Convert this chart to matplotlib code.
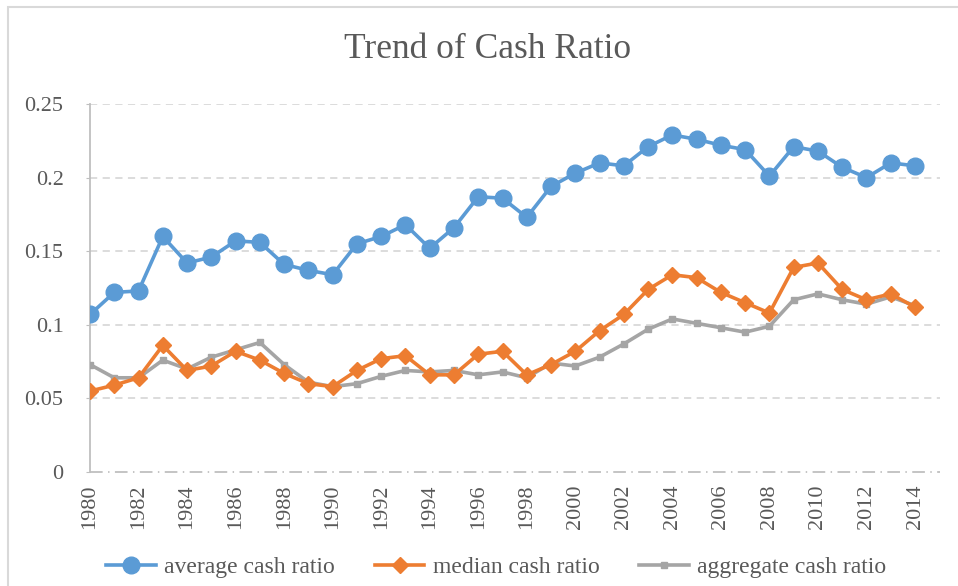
#!/usr/bin/env python3
"""Recreate the 'Trend of Cash Ratio' line chart."""

import matplotlib

matplotlib.use("Agg")
import matplotlib.pyplot as plt
from matplotlib.patches import Rectangle

years = list(range(1980, 2015))

average_ratio = [
    0.107, 0.122, 0.123, 0.160, 0.142, 0.146, 0.157, 0.156, 0.141, 0.137,
    0.134, 0.155, 0.160, 0.168, 0.152, 0.166, 0.187, 0.186, 0.173, 0.194,
    0.203, 0.210, 0.208, 0.221, 0.229, 0.226, 0.222, 0.219, 0.201, 0.221,
    0.218, 0.207, 0.200, 0.210, 0.208,
]
median_ratio = [
    0.055, 0.059, 0.064, 0.086, 0.069, 0.072, 0.082, 0.076, 0.067, 0.060,
    0.058, 0.069, 0.077, 0.079, 0.066, 0.066, 0.080, 0.082, 0.066, 0.073,
    0.082, 0.096, 0.107, 0.124, 0.134, 0.132, 0.122, 0.115, 0.108, 0.139,
    0.142, 0.124, 0.117, 0.121, 0.112,
]
aggregate_ratio = [
    0.073, 0.064, 0.064, 0.076, 0.070, 0.078, 0.083, 0.088, 0.073, 0.061,
    0.058, 0.060, 0.065, 0.069, 0.068, 0.069, 0.066, 0.068, 0.064, 0.074,
    0.072, 0.078, 0.087, 0.097, 0.104, 0.101, 0.098, 0.095, 0.099, 0.117,
    0.121, 0.117, 0.114, 0.119, 0.113,
]

y_ticks = [0, 0.05, 0.1, 0.15, 0.2, 0.25]
y_tick_labels = ["0", "0.05", "0.1", "0.15", "0.2", "0.25"]
x_ticks = list(range(1980, 2015, 2))

TEXT = "#595959"
GRID = "#d9d9d9"
plt.rcParams["font.family"] = ["Liberation Serif", "DejaVu Serif"]

fig = plt.figure(figsize=(9.58, 5.86), dpi=100)
ax = fig.add_axes([90 / 958, 1 - 472 / 586, 850 / 958, 368 / 586])

# outer chart border (left and top visible)
fig.patches.append(
    Rectangle((8 / 958, -0.1), 1.2, 1 - 7 / 586 + 0.1, transform=fig.transFigure,
              fill=False, edgecolor=GRID, lw=1.5)
)

ax.plot(years, average_ratio, color="#5B9BD5", lw=2.6, marker="o", ms=12,
        label="average cash ratio", zorder=5)
ax.plot(years, median_ratio, color="#ED7D31", lw=2.6, marker="D", ms=8.5,
        label="median cash ratio", zorder=4)
ax.plot(years, aggregate_ratio, color="#A5A5A5", lw=2.6, marker="s", ms=4,
        label="aggregate cash ratio", zorder=3)

ax.set_xlim(1980, 2015.03)
ax.set_ylim(0, 0.25)

for y in y_ticks[1:]:
    ax.axhline(y, color=GRID, lw=1.3, ls=(0, (4.0, 3.0)), zorder=1)
ax.axhline(0, color="#bfbfbf", lw=1.3, ls=(0, (7.0, 3.0, 0.8, 3.0)), zorder=1,
           clip_on=False)

for side in ["top", "right", "bottom"]:
    ax.spines[side].set_visible(False)
ax.spines["left"].set_color("#bfbfbf")
ax.spines["left"].set_linewidth(1.3)

ax.set_yticks(y_ticks)
ax.set_yticklabels(y_tick_labels)
ax.set_xticks(x_ticks)
ax.set_xticklabels([str(x) for x in x_ticks], rotation=90)
ax.tick_params(axis="y", length=3, color="#bfbfbf", pad=16, labelsize=16,
               labelcolor=TEXT)
ax.tick_params(axis="x", length=0, pad=9, labelsize=16, labelcolor=TEXT)

fig.text(0.509, 1 - 50 / 586, "Trend of Cash Ratio", ha="center", va="center",
         fontsize=25.5, color=TEXT)

fig.legend(loc="center", bbox_to_anchor=(0.518, 1 - 567 / 586), ncol=3,
           frameon=False, fontsize=17, handlelength=2.1, handletextpad=0.35,
           columnspacing=1.7, labelcolor=TEXT)

fig.savefig("out.png", dpi=100)
